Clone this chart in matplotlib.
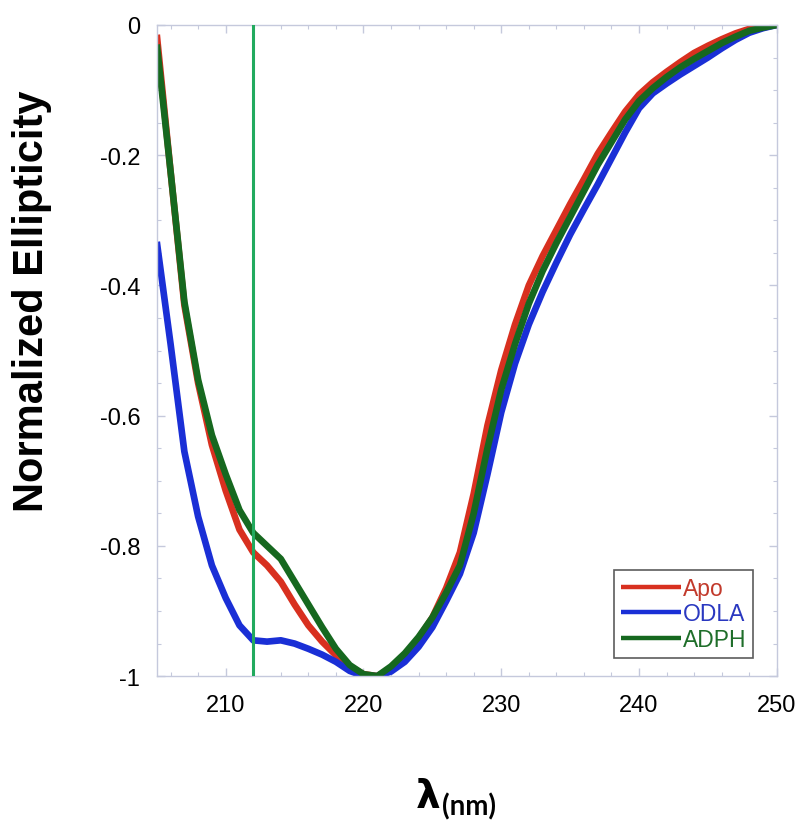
import matplotlib
matplotlib.use("Agg")
import matplotlib.pyplot as plt
from matplotlib.ticker import MultipleLocator, FuncFormatter

wavelength = list(range(205, 251))

apo = [-0.015, -0.225, -0.43, -0.55, -0.645, -0.715, -0.775, -0.81, -0.83, -0.855,
       -0.89, -0.922, -0.947, -0.968, -0.985, -0.997, -1.0, -0.988, -0.968, -0.942,
       -0.91, -0.865, -0.81, -0.72, -0.615, -0.53, -0.46, -0.40, -0.355, -0.315,
       -0.275, -0.237, -0.198, -0.165, -0.133, -0.107, -0.088, -0.072, -0.057, -0.043,
       -0.032, -0.022, -0.013, -0.006, -0.002, 0.0]

odla = [-0.333, -0.49, -0.655, -0.755, -0.83, -0.88, -0.922, -0.945, -0.947, -0.945,
        -0.95, -0.958, -0.967, -0.978, -0.992, -1.0, -1.0, -0.993, -0.978, -0.955,
        -0.925, -0.885, -0.843, -0.78, -0.69, -0.595, -0.52, -0.46, -0.41, -0.365,
        -0.322, -0.283, -0.245, -0.205, -0.165, -0.128, -0.105, -0.09, -0.076, -0.063,
        -0.05, -0.036, -0.023, -0.012, -0.005, 0.0]

adph = [-0.03, -0.225, -0.425, -0.545, -0.63, -0.69, -0.745, -0.78, -0.80, -0.82,
        -0.855, -0.89, -0.925, -0.958, -0.983, -0.997, -1.0, -0.985, -0.965, -0.94,
        -0.91, -0.872, -0.83, -0.75, -0.65, -0.56, -0.49, -0.428, -0.378, -0.335,
        -0.295, -0.255, -0.215, -0.18, -0.145, -0.117, -0.097, -0.08, -0.065, -0.052,
        -0.04, -0.028, -0.018, -0.009, -0.004, 0.0]

marker_wavelength = 212

series_names = ["Apo", "ODLA", "ADPH"]
line_colors = ["#d8301f", "#1a2fd6", "#16681f"]
text_colors = ["#c23a2c", "#2a38c0", "#1f6e2a"]

fig = plt.figure(figsize=(8.0, 8.37), dpi=100)
ax = fig.add_axes([0.196, 0.191, 0.775, 0.778])

for ys, c, n in zip([apo, odla, adph], line_colors, series_names):
    ax.plot(wavelength, ys, color=c, lw=4.8, label=n,
            solid_joinstyle="round", solid_capstyle="butt")

ax.axvline(marker_wavelength, color="#22aa5e", lw=2.2, zorder=5)

ax.set_xlim(205, 250)
ax.set_ylim(-1, 0)

ax.xaxis.set_major_locator(MultipleLocator(10))
ax.xaxis.set_minor_locator(MultipleLocator(2))
ax.yaxis.set_major_locator(MultipleLocator(0.2))
ax.yaxis.set_minor_locator(MultipleLocator(0.05))


def yfmt(v, pos):
    s = "%g" % round(v, 2)
    return "0" if s in ("-0", "0") else s


ax.yaxis.set_major_formatter(FuncFormatter(yfmt))

spine_color = "#c5c9dc"
for sp in ax.spines.values():
    sp.set_color(spine_color)
    sp.set_linewidth(1.0)

ax.tick_params(which="both", direction="in", top=True, right=True,
               color=spine_color)
ax.tick_params(which="major", length=6, width=1.0, labelsize=17)
ax.tick_params(axis="x", which="major", pad=13)
ax.tick_params(axis="y", which="major", pad=12)
ax.tick_params(which="minor", length=3, width=0.8)
for lab in ax.get_xticklabels() + ax.get_yticklabels():
    lab.set_fontfamily("Liberation Sans")

fig.text(0.04, 0.64, "Normalized Ellipticity", fontsize=30, fontweight="bold",
         family="Liberation Sans", rotation=90, ha="center", va="center")

fig.text(0.551, 0.035, "λ", fontsize=28, fontweight="bold",
         family=["DejaVu Sans"], ha="right", va="baseline")
fig.text(0.552, 0.026, "(nm)", fontsize=20, fontweight="bold",
         family=["Lato", "DejaVu Sans"], ha="left", va="baseline")

leg = ax.legend(loc="lower right", bbox_to_anchor=(0.962, 0.028),
                frameon=True, fancybox=False, handlelength=2.6,
                handletextpad=0.1, borderpad=0.3, labelspacing=0.12,
                borderaxespad=0.0,
                prop={"family": "Liberation Sans", "size": 16.5})
leg.get_frame().set_edgecolor("#333333")
leg.get_frame().set_linewidth(1.2)
for t, c in zip(leg.get_texts(), text_colors):
    t.set_color(c)
for h in leg.get_lines():
    h.set_linewidth(3.2)

fig.savefig("out.png", dpi=100, facecolor="white")
